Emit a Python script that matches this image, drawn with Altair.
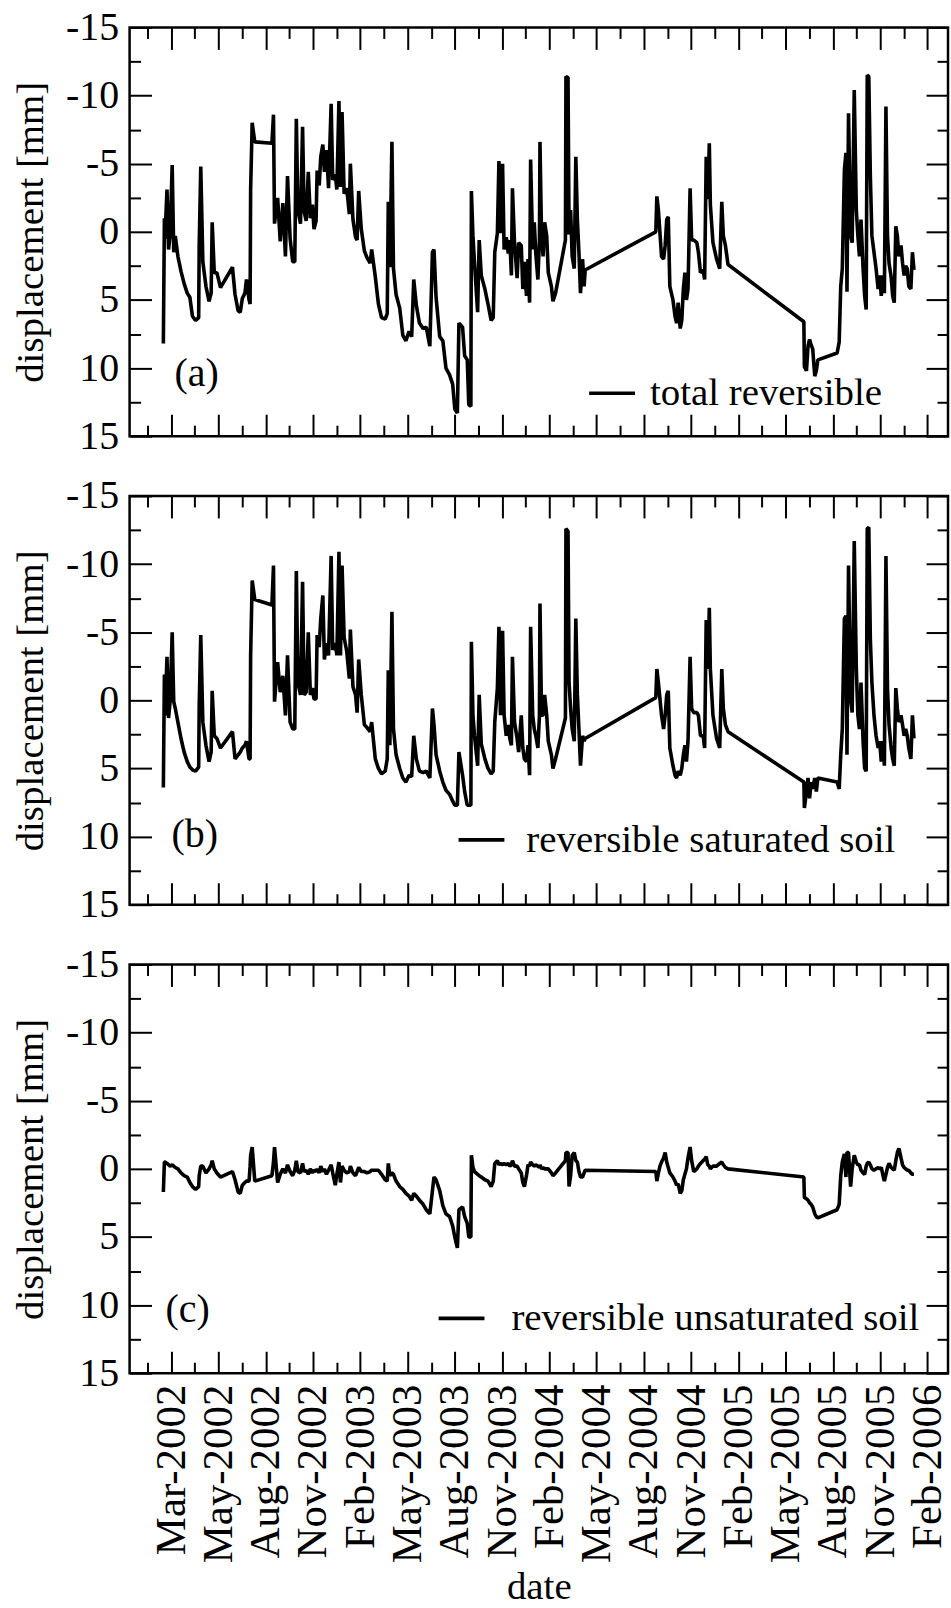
import altair as alt
import pandas as pd

# ---------------- data ----------------
dates = [
    "2002-02-14", "2002-02-16", "2002-02-17", "2002-02-21", "2002-02-24", "2002-02-27", "2002-03-03", "2002-03-06", "2002-03-09", "2002-03-14",
    "2002-03-20", "2002-03-26", "2002-04-01", "2002-04-06", "2002-04-11", "2002-04-17", "2002-04-23", "2002-04-24", "2002-04-27", "2002-05-01",
    "2002-05-07", "2002-05-13", "2002-05-17", "2002-05-19", "2002-05-23", "2002-05-28", "2002-06-04", "2002-06-27", "2002-07-02", "2002-07-08",
    "2002-07-12", "2002-07-16", "2002-07-21", "2002-07-24", "2002-07-29", "2002-07-31", "2002-08-01", "2002-08-04", "2002-08-09", "2002-09-11",
    "2002-09-14", "2002-09-16", "2002-09-22", "2002-09-27", "2002-10-02", "2002-10-07", "2002-10-11", "2002-10-16", "2002-10-21", "2002-10-25",
    "2002-10-28", "2002-10-31", "2002-11-05", "2002-11-09", "2002-11-12", "2002-11-16", "2002-11-20", "2002-11-24", "2002-11-28", "2002-12-01",
    "2002-12-05", "2002-12-07", "2002-12-11", "2002-12-14", "2002-12-18", "2002-12-21", "2002-12-25", "2002-12-29", "2003-01-03", "2003-01-06",
    "2003-01-11", "2003-01-14", "2003-01-18", "2003-01-21", "2003-01-24", "2003-01-28", "2003-02-02", "2003-02-07", "2003-02-09", "2003-02-14",
    "2003-02-19", "2003-02-22", "2003-02-25", "2003-03-02", "2003-03-08", "2003-03-13", "2003-03-19", "2003-03-22", "2003-03-29", "2003-04-04",
    "2003-04-10", "2003-04-17", "2003-04-21", "2003-04-23", "2003-04-26", "2003-04-30", "2003-05-03", "2003-05-08", "2003-05-15", "2003-05-21",
    "2003-05-27", "2003-06-02", "2003-06-07", "2003-06-11", "2003-06-16", "2003-06-22", "2003-06-29", "2003-07-05", "2003-07-12", "2003-07-17",
    "2003-07-20", "2003-07-24", "2003-07-31", "2003-08-06", "2003-08-12", "2003-08-19", "2003-08-25", "2003-08-29", "2003-09-03", "2003-09-06",
    "2003-09-13", "2003-09-17", "2003-09-22", "2003-09-25", "2003-09-29", "2003-09-30", "2003-10-03", "2003-10-06", "2003-10-12", "2003-10-15",
    "2003-10-19", "2003-10-26", "2003-11-01", "2003-11-07", "2003-11-11", "2003-11-14", "2003-11-19", "2003-11-22", "2003-11-25", "2003-11-29",
    "2003-12-02", "2003-12-06", "2003-12-10", "2003-12-13", "2003-12-16", "2003-12-18", "2003-12-22", "2003-12-27", "2003-12-30", "2004-01-04",
    "2004-01-07", "2004-01-10", "2004-01-14", "2004-01-17", "2004-01-20", "2004-01-22", "2004-01-26", "2004-01-29", "2004-02-01", "2004-02-05",
    "2004-02-08", "2004-02-09", "2004-02-12", "2004-02-15", "2004-02-18", "2004-02-22", "2004-02-25", "2004-03-02", "2004-03-05", "2004-03-10",
    "2004-03-29", "2004-03-30", "2004-04-03", "2004-04-05", "2004-04-08", "2004-04-11", "2004-04-15", "2004-04-18", "2004-04-21", "2004-04-24",
    "2004-04-27", "2004-05-01", "2004-05-04", "2004-05-06", "2004-09-19", "2004-09-21", "2004-09-24", "2004-09-27", "2004-09-30", "2004-10-04",
    "2004-10-07", "2004-10-10", "2004-10-13", "2004-10-16", "2004-10-22", "2004-10-26", "2004-10-29", "2004-11-01", "2004-11-05", "2004-11-08",
    "2004-11-11", "2004-11-14", "2004-11-17", "2004-11-20", "2004-11-24", "2004-11-27", "2004-12-01", "2004-12-07", "2004-12-10", "2004-12-14",
    "2004-12-19", "2004-12-22", "2004-12-25", "2004-12-28", "2004-12-31", "2005-01-02", "2005-01-07", "2005-01-14", "2005-01-20", "2005-01-24",
    "2005-01-27", "2005-01-31", "2005-02-05", "2005-07-01", "2005-07-02", "2005-07-06", "2005-07-09", "2005-07-12", "2005-07-15", "2005-07-18",
    "2005-07-22", "2005-07-25", "2005-07-28", "2005-09-03", "2005-09-07", "2005-09-10", "2005-09-13", "2005-09-17", "2005-09-20", "2005-09-22",
    "2005-09-25", "2005-09-29", "2005-10-02", "2005-10-06", "2005-10-10", "2005-10-13", "2005-10-16", "2005-10-19", "2005-10-23", "2005-10-26",
    "2005-10-29", "2005-10-31", "2005-11-03", "2005-11-06", "2005-11-09", "2005-11-13", "2005-11-17", "2005-11-21", "2005-11-24", "2005-11-27",
    "2005-12-01", "2005-12-03", "2005-12-06", "2005-12-09", "2005-12-12", "2005-12-16", "2005-12-19", "2005-12-22", "2005-12-25", "2005-12-28",
    "2005-12-31", "2006-01-04", "2006-01-07", "2006-01-10", "2006-01-13", "2006-01-16", "2006-01-19", "2006-01-23", "2006-01-26", "2006-01-29",
]

total_reversible = [
    8.2, -1.0, 0.5, -3.1, 1.3, 0.2, -4.9, 1.5, 0.3, 1.8,
    2.9, 3.8, 4.5, 4.8, 6.2, 6.5, 6.3, 1.0, -4.8, 2.2,
    4.0, 5.1, 4.5, -0.7, 3.0, 3.0, 4.1, 2.6, 4.6, 5.8,
    5.9, 4.9, 4.5, 3.5, 5.0, 5.3, -3.1, -8.0, -6.6, -6.5,
    -8.6, -0.6, -2.5, 0.7, -2.1, 1.8, -4.1, 0.5, 2.2, 2.2,
    -8.3, -1.6, -0.6, -7.7, -1.5, -0.8, -4.4, -1.0, -2.0, -0.2,
    -0.8, -4.5, -3.4, -5.5, -6.4, -4.4, -6.0, -3.2, -9.4, -3.8,
    -4.2, -3.1, -9.6, -3.3, -8.8, -2.8, -3.2, -1.3, -5.0, -0.9,
    0.4, 0.6, -3.0, -0.2, 1.4, 1.9, 2.3, 1.3, 3.3, 5.3,
    6.3, 6.4, 6.0, -2.2, 2.6, -6.6, 2.7, 4.6, 5.6, 7.6,
    8.0, 7.3, 7.7, 3.5, 5.4, 6.7, 7.1, 7.0, 8.4, 1.5,
    1.3, 4.8, 7.7, 8.0, 10.0, 10.5, 11.2, 13.0, 13.3, 6.7,
    7.0, 9.1, 9.4, 12.7, 12.8, -3.0, 0.3, 2.3, 5.9, 0.6,
    3.2, 4.2, 5.3, 6.5, 6.3, 1.5, 0.1, -5.2, 0.1, -5.0,
    1.3, 0.4, 1.6, 0.6, 3.2, -3.2, 0.8, 3.4, 0.8, 1.0,
    4.2, 2.2, 4.7, 2.0, 5.2, -5.3, 1.3, -0.7, 1.6, 3.5,
    0.6, -6.6, 0.3, 1.8, -0.7, 0.3, 3.0, 4.0, 5.1, 4.5,
    0.6, -11.4, -11.3, 0.2, -1.6, 1.8, 2.7, -5.5, -0.9, 1.5,
    4.5, 2.0, 4.0, 2.8, 0.0, -2.6, -1.6, 0.1, 1.8, 2.0,
    1.0, -0.9, -1.1, 4.0, 5.0, 6.2, 6.7, 5.2, 7.1, 6.5,
    4.2, 3.0, 5.0, 4.2, -3.2, 0.6, 0.6, 0.8, 1.5, 3.0,
    2.8, 3.5, -5.5, -2.4, -6.5, -2.0, 0.8, 2.0, 2.7, -2.2,
    0.3, 1.0, 2.4, 6.6, 9.9, 10.2, 8.4, 7.9, 8.3, 8.6,
    10.6, 10.2, 9.4, 8.9, 8.1, 4.0, 2.7, -4.5, -5.8, 4.4,
    -8.7, 0.3, 0.8, -10.4, -1.6, 0.3, 1.8, -0.9, 2.7, 4.7,
    5.7, -11.5, -11.4, -4.1, 0.3, 1.5, 2.7, 4.2, 3.2, 4.7,
    3.2, 4.5, -9.2, 0.3, 2.3, 3.3, 4.7, 5.2, -0.4, 0.3,
    1.8, 1.0, 2.3, 3.2, 2.5, 2.7, 4.0, 4.2, 1.5, 2.8,
]

reversible_saturated = [
    6.4, -1.9, 1.1, -3.2, 1.3, 0.1, -5.0, 0.1, 0.6, 1.6,
    2.8, 3.8, 4.5, 4.9, 5.1, 5.2, 4.9, 0.4, -4.8, 1.6,
    3.3, 4.5, 3.8, -0.7, 2.6, 2.8, 3.5, 2.3, 4.3, 4.0,
    3.8, 3.5, 3.3, 3.0, 4.3, 4.3, -3.3, -8.8, -7.4, -7.0,
    -9.9, 0.1, -2.8, -0.6, -1.8, 1.1, -3.3, 1.6, 2.1, 2.1,
    -9.5, -1.3, -0.4, -8.7, -0.4, -0.6, -5.0, -0.4, -0.9, -0.1,
    -0.1, -4.8, -3.9, -6.0, -7.7, -3.0, -4.2, -3.3, -10.6, -3.7,
    -4.2, -3.3, -10.9, -3.3, -9.9, -4.6, -3.6, -1.6, -5.2, -1.0,
    -0.4, 0.9, -3.0, -0.4, 1.8, 2.0, 2.3, 1.6, 4.3, 5.0,
    5.4, 5.2, 4.3, -2.2, 3.3, -6.5, 2.1, 4.0, 5.0, 5.7,
    6.0, 5.5, 5.6, 2.6, 4.3, 5.2, 5.3, 5.2, 5.7, 0.6,
    1.8, 4.0, 5.2, 6.0, 6.6, 6.9, 7.4, 7.7, 7.7, 3.8,
    5.5, 6.7, 7.7, 7.7, 7.7, -4.3, 1.1, 2.6, 4.8, -0.4,
    3.2, 4.3, 5.0, 5.4, 5.2, 1.6, -0.9, -5.4, 1.1, -5.1,
    1.1, 2.6, 1.8, 2.8, 3.3, -3.2, 1.6, 2.8, 3.8, 1.1,
    3.5, 4.3, 4.5, 3.3, 5.5, -5.4, 1.1, 2.1, 2.6, 3.5,
    1.1, -7.1, 1.1, 1.1, -0.4, 1.1, 3.0, 4.0, 5.0, 4.3,
    1.3, -12.6, -12.4, -1.3, 0.6, 2.1, 3.0, -6.0, -0.4, 2.1,
    4.8, 2.6, 3.0, 2.8, -0.2, -2.3, -1.3, -0.1, 1.1, 2.1,
    1.1, -0.4, -0.7, 3.5, 4.8, 5.5, 5.7, 5.2, 5.5, 5.0,
    4.0, 3.3, 4.5, 3.0, -3.2, 0.6, 0.9, 0.9, 1.1, 2.6,
    2.6, 3.5, -5.9, -2.3, -6.8, -2.3, 1.1, 2.8, 3.5, -2.3,
    0.6, 1.8, 2.3, 6.0, 7.9, 6.7, 5.7, 7.2, 6.0, 6.5,
    5.7, 6.7, 5.7, 6.0, 6.5, 4.0, 2.1, -6.0, -6.2, 4.0,
    -9.9, -0.1, 0.9, -11.7, -2.3, 1.1, 2.1, -1.3, 3.0, 5.0,
    5.2, -12.6, -12.7, -4.5, -1.3, 1.1, 2.6, 3.5, 3.0, 4.5,
    3.0, 4.8, -10.6, -0.9, 1.8, 3.5, 4.3, 4.8, -0.9, 0.6,
    1.6, 1.1, 1.8, 2.6, 2.1, 2.6, 3.5, 4.3, 1.1, 2.8,
]

reversible_unsaturated = [
    1.7, -0.5, -0.5, -0.4, -0.3, -0.2, -0.3, -0.2, -0.1, 0.0,
    0.3, 0.5, 0.6, 1.0, 1.3, 1.5, 1.3, 0.5, -0.2, -0.2,
    0.3, 0.0, -0.3, -0.6, 0.0, 0.3, 0.6, 0.2, 0.8, 1.7,
    1.8, 1.2, 1.0, 0.9, 0.9, -0.2, -1.0, -1.6, 0.9, 0.5,
    -0.5, -1.6, 1.0, 0.4, 0.0, 0.3, -0.3, 0.2, 0.5, 0.1,
    -0.6, 0.2, 0.3, -0.4, 0.2, 0.1, 0.4, 0.0, 0.3, 0.1,
    0.2, 0.0, 0.3, -0.2, 0.2, 0.0, 0.4, 0.1, -0.3, 0.3,
    1.2, 0.4, -0.5, 1.0, -0.2, 0.1, 0.3, 0.2, -0.2, 0.3,
    0.5, 0.2, -0.1, 0.2, 0.2, 0.3, 0.2, 0.1, 0.1, 0.1,
    0.4, 0.8, 0.9, -0.4, 0.5, 0.3, 0.4, 0.9, 1.3, 1.5,
    1.8, 2.0, 2.3, 1.8, 2.0, 2.3, 2.6, 3.0, 3.3, 1.6,
    0.6, 0.8, 1.6, 2.7, 3.3, 3.5, 4.2, 5.0, 5.8, 3.0,
    2.8, 3.5, 4.0, 5.0, 5.0, -1.0, -0.1, 0.2, 0.4, 0.5,
    0.6, 0.8, 0.9, 1.3, 0.9, -0.4, -0.6, -0.3, -0.4, -0.3,
    -0.4, -0.3, -0.4, -0.2, -0.3, -0.6, -0.2, -0.2, 0.0, 0.3,
    1.0, 1.3, 0.5, -0.3, -0.2, -0.5, -0.3, -0.2, -0.3, -0.2,
    -0.1, -0.3, 0.0, -0.1, 0.0, 0.0, 0.0, 0.3, 0.5, 0.3,
    -0.6, -1.2, -1.2, 1.3, 0.5, -1.0, -1.2, -0.6, -0.5, 0.2,
    0.6, 0.6, 0.3, 0.1, 0.2, 0.9, 0.3, -0.2, -0.5, -0.8,
    -1.2, -0.5, -0.1, 0.3, 0.6, 0.9, 1.2, 1.1, 1.8, 1.6,
    0.8, 0.4, 0.0, -0.8, -1.6, -0.6, 0.2, 0.0, -0.2, -0.4,
    -0.6, -0.7, -0.9, -0.3, -0.2, 0.0, -0.2, -0.2, -0.4, -0.5,
    -0.3, -0.1, 0.0, 0.6, 2.1, 2.2, 2.3, 2.5, 2.6, 2.8,
    3.3, 3.5, 3.6, 3.0, 2.6, 0.5, -0.5, -1.1, 0.6, -1.2,
    -1.2, 1.3, 0.0, -1.0, -0.5, -0.3, -0.3, 0.1, 0.3, 0.4,
    -0.2, -0.4, -0.5, -0.3, 0.0, 0.1, 0.0, -0.1, 0.0, -0.1,
    0.6, 0.9, 0.4, -0.1, -0.4, -0.1, 0.0, 0.1, -0.6, -1.2,
    -1.5, -0.8, -0.3, -0.1, 0.0, 0.1, 0.1, 0.3, 0.4, 0.4,
]

series_names = ["total reversible", "reversible saturated soil", "reversible unsaturated soil"]
panel_tags = ["(a)", "(b)", "(c)"]

# x tick marks (labels "Mar-2002" ... "Feb-2006")
tick_dates = [
    "2002-03-01", "2002-05-31", "2002-08-30", "2002-11-29", "2003-02-28", "2003-05-30",
    "2003-08-29", "2003-11-28", "2004-02-27", "2004-05-28", "2004-08-27", "2004-11-26",
    "2005-02-25", "2005-05-27", "2005-08-26", "2005-11-25", "2006-02-24",
]
x_start, x_end = "2001-12-11", "2006-04-04 12:00"
y_major = [-15, -10, -5, 0, 5, 10, 15]
y_minor = [-12.5, -7.5, -2.5, 2.5, 7.5, 12.5]

# ---------------- styling ----------------
FONT = "Liberation Serif"
W, H = 821, 410
MAJOR, MINOR = 22, 11


def ms(s):
    return int(pd.Timestamp(s).value // 10**6)


major_ms = [ms(d) for d in tick_dates]
minor_ms = [m - int(45.5 * 86400000) for m in major_ms]
domain_ms = [ms(x_start), ms(x_end)]

Y_LABEL = "datum.value < 0 ? '-' + abs(datum.value) : '' + datum.value"


def tick_axis(orient, values, size, **extra):
    opts = dict(orient=orient, values=values, offset=-size, tickSize=size, tickWidth=2,
                tickColor="black", domain=False, grid=False, labels=False, title=None,
                labelFont=FONT, titleFont=FONT, labelColor="black", titleColor="black",
                titleFontWeight="normal")
    opts.update(extra)
    return alt.Axis(**opts)


def panel(values, name, tag, with_dates, leg_x, leg_y, leg_gap, tag_x, tag_y):
    df = pd.DataFrame({"date": dates, "displacement": values, "series": name})
    xs = alt.Scale(type="utc", domain=domain_ms)
    ys = alt.Scale(domain=[-15, 15], reverse=True, nice=False, zero=False)
    base = alt.Chart(df)
    if with_dates:
        bottom = tick_axis("bottom", major_ms, MAJOR, labels=True,
                           labelExpr="utcFormat(datum.value, '%b-%Y')", labelAngle=270,
                           labelAlign="right", labelBaseline="middle", labelPadding=11,
                           labelFontSize=43, labelOverlap=False, labelFlush=False,
                           labelLimit=400, title="date", titleFontSize=39, titlePadding=17)
    else:
        bottom = tick_axis("bottom", major_ms, MAJOR)
    left = tick_axis("left", y_major, MAJOR, labels=True, labelExpr=Y_LABEL, labelPadding=11,
                     labelFontSize=40, labelOverlap=False, labelFlush=False,
                     title="displacement [mm]", titleFontSize=39, titlePadding=15)
    line = base.mark_line(strokeWidth=3.6, strokeJoin="bevel").encode(
        x=alt.X("date:T", scale=xs, axis=bottom),
        y=alt.Y("displacement:Q", scale=ys, axis=left),
        color=alt.Color(
            "series:N",
            scale=alt.Scale(domain=[name], range=["black"]),
            legend=alt.Legend(orient="none", legendX=leg_x, legendY=leg_y, title=None,
                              symbolType="stroke", symbolSize=2116, symbolStrokeWidth=3.6,
                              symbolStrokeColor="black", labelFontSize=39, labelFont=FONT,
                              labelColor="black", labelOffset=leg_gap, labelLimit=1000,
                              padding=0),
        ),
    )

    def ghost(xa, ya):
        return base.mark_line(opacity=0).encode(
            x=alt.X("date:T", scale=xs, axis=xa),
            y=alt.Y("displacement:Q", scale=ys, axis=ya),
        )

    l2 = ghost(tick_axis("bottom", minor_ms, MINOR), tick_axis("left", y_minor, MINOR))
    l3 = ghost(tick_axis("top", major_ms, MAJOR), tick_axis("right", y_major, MAJOR))
    l4 = ghost(tick_axis("top", minor_ms, MINOR), tick_axis("right", y_minor, MINOR))
    label = alt.Chart(pd.DataFrame({"tag": [tag]})).mark_text(
        font=FONT, fontSize=40, align="left", baseline="alphabetic", color="black"
    ).encode(text="tag:N", x=alt.value(tag_x), y=alt.value(tag_y))
    return (
        alt.layer(line, l2, l3, l4, label)
        .resolve_axis(x="independent", y="independent")
        .properties(width=W, height=H)
    )


pa = panel(total_reversible, series_names[0], panel_tags[0], False, 459, 342, 13, 45, 360)
pb = panel(reversible_saturated, series_names[1], panel_tags[1], False, 328, 320, 20, 42, 352)
pc = panel(reversible_unsaturated, series_names[2], panel_tags[2], True, 308, 330, 25, 36, 359)

chart = (
    alt.vconcat(pa, pb, pc, spacing=60, bounds="flush")
    .resolve_scale(color="independent")
    .properties(padding={"left": 10, "top": 3, "right": 0, "bottom": 0}, background="white")
    .configure(font=FONT,
               style={"guide-label": {"font": FONT, "fill": "black"},
                      "guide-title": {"font": FONT, "fill": "black", "fontWeight": "normal"}})
    .configure_view(stroke="black", strokeWidth=2.5)
    .configure_axis(labelFont=FONT, titleFont=FONT, labelColor="black", titleColor="black",
                    titleFontWeight="normal")
    .configure_legend(labelFont=FONT, labelColor="black")
)

chart.save("out.html", embed_options={"renderer": "svg", "actions": False})
